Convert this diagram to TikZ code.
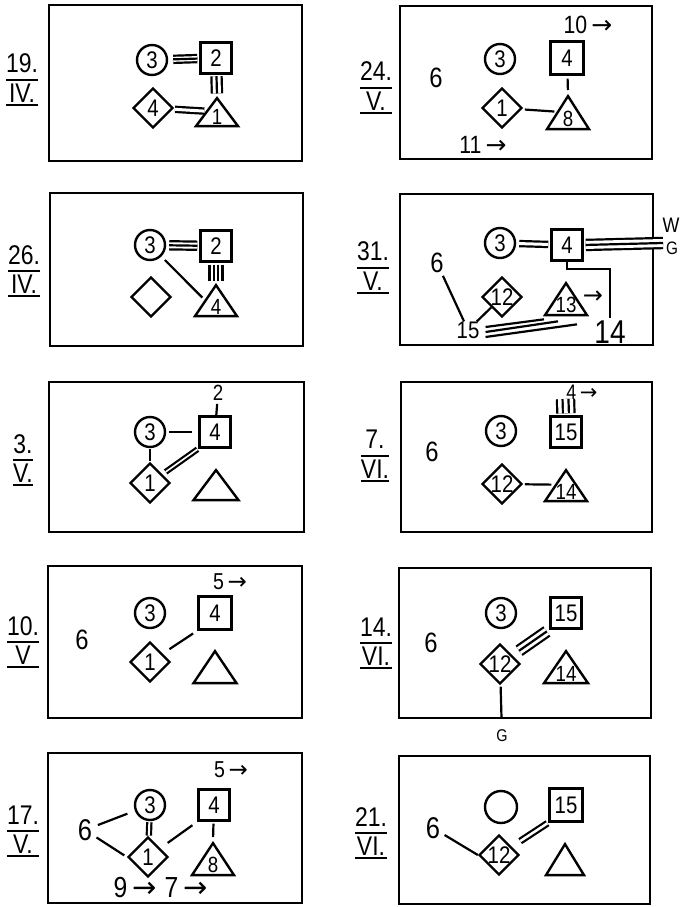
\documentclass[tikz,border=0pt]{standalone}
\usepackage{fontspec}
\setmainfont{Liberation Sans}
\newfontfamily\hand[FakeStretch=0.85]{Liberation Sans}
\newfontfamily\arrfont{DejaVu Sans}
\usetikzlibrary{shapes.geometric,calc}
\newcommand\arr{{\arrfont →}}
\setlength{\arrayrulewidth}{2pt}
\renewcommand\arraystretch{0}
\newcommand\datelab[2]{\begin{tabular}{@{}c@{}}\rule[-6pt]{0pt}{25pt}#1\\\hline\rule[-1.5pt]{0pt}{23pt}#2\\\hline\end{tabular}}
\tikzset{
  pbox/.style={draw, line width=2.8pt},
  ln/.style={line width=2.2pt},
  shp/.style={draw, line width=2.4pt, inner sep=0pt, font=\hand\fontsize{24}{24}\selectfont},
  circ/.style={shp, circle, minimum size=30pt},
  sq/.style={shp, rectangle, minimum size=31pt},
  dia/.style={shp, diamond, minimum size=40pt, aspect=1},
  tri/.style={shp, isosceles triangle, isosceles triangle stretches=true, shape border rotate=90, minimum width=42pt, minimum height=31pt, anchor=apex},
  trilab/.style={label={[tx=22, anchor=south, yshift=3pt]lower side:#1}},
  tx/.style={inner sep=0pt, font=\hand\fontsize{#1}{#1}\selectfont},
  datel/.style={inner sep=0pt, font=\hand\fontsize{27}{20}\selectfont}
}
\begin{document}
\begin{tikzpicture}[x=1pt,y=-1pt]
\useasboundingbox (0,0) rectangle (689,907);
% frames
\draw[pbox] (49,5) rectangle (302,161);
\draw[pbox] (400,6) rectangle (652,159);
\draw[pbox] (50,193) rectangle (303,346);
\draw[pbox] (400,194) rectangle (653,345);
\draw[pbox] (49,382) rectangle (304,532);
\draw[pbox] (401,382) rectangle (652,532);
\draw[pbox] (48,566) rectangle (302,718);
\draw[pbox] (399,568) rectangle (651,718);
\draw[pbox] (48,753) rectangle (302,903);
\draw[pbox] (399,756) rectangle (650,904);
% date labels
\node[datel] (dL1) at (22,79.8) {\datelab{19.}{IV.}};
\node[datel] (dR1) at (376,87.9) {\datelab{24.}{V.}};
\node[datel] (dL2) at (24,271.4) {\datelab{26.}{IV.}};
\node[datel] (dR2) at (373,267.9) {\datelab{31.}{V.}};
\node[datel] (dL3) at (23,460.4) {\datelab{3.}{V.}};
\node[datel] (dR3) at (375,455.9) {\datelab{7.}{VI.}};
\node[datel] (dL4) at (23,642.4) {\datelab{10.}{V}};
\node[datel] (dR4) at (376,643.4) {\datelab{14.}{VI.}};
\node[datel] (dL5) at (23,831.4) {\datelab{17.}{V.}};
\node[datel] (dR5) at (371,833.4) {\datelab{21.}{VI.}};

% ---- L1 19.IV
\node[circ] (c1) at (152,60) {3};
\node[sq] (s1) at (216,58) {2};
\node[dia] (d1) at (153,108) {4};
\node[tri, minimum height=28pt, trilab=1] (t1) at (217,95) {};
\draw[ln, double distance=5pt, shorten <=5pt, shorten >=2pt] (c1) -- (s1);
\draw[ln, shorten <=5pt, shorten >=2pt] (c1) -- (s1);
\draw[ln, double distance=3pt, shorten <=2pt, shorten >=1pt] (d1) -- (t1.left side);
\draw[ln, double distance=8pt, shorten <=1.5pt, shorten >=1.5pt] (s1) -- (t1.apex);
\draw[ln, shorten <=1.5pt, shorten >=1.5pt] (s1) -- (t1.apex);

% ---- R1 24.V
\node[tx=25] (n10) at (588,25) {10\,\arr};
\node[circ] (c2) at (500,59) {3};
\node[sq, minimum size=33pt] (s2) at (567,58) {4};
\node[tx=28] (six2) at (436,78) {6};
\node[dia] (d2) at (502,108) {1};
\node[tri, minimum height=33pt, trilab=8] (t2) at (568,93) {};
\draw[ln, shorten <=3pt, shorten >=3pt] (s2) -- (t2.apex);
\draw[ln, shorten <=3pt, shorten >=2pt] (d2) -- (t2.left side);
\node[tx=25] (n11) at (483,145) {11\,\arr};

% ---- L2 26.IV
\node[circ] (c3) at (150,245) {3};
\node[sq] (s3) at (216,246) {2};
\node[dia] (d3) at (151,297) {};
\node[tri, trilab=4] (t3) at (216,282) {};
\draw[ln, double distance=6pt, shorten <=3pt, shorten >=2pt] (c3) -- (s3);
\draw[ln, shorten <=3pt, shorten >=2pt] (c3) -- (s3);
\draw[ln, shorten <=5pt, shorten >=3pt] (c3) -- (t3.left side);
\draw[ln, double distance=10.9pt, shorten <=2pt, shorten >=1.5pt] (s3) -- (t3.apex);
\draw[ln, double distance=2.3pt, shorten <=2pt, shorten >=1.5pt] (s3) -- (t3.apex);

% ---- R2 31.V
\node[circ] (c4) at (500,243) {3};
\node[sq] (s4) at (567,245) {4};
\coordinate (wg) at (663,243);
\node[tx=21] (W) at (671,225) {W};
\node[tx=18] (G1) at (672,248) {G};
\node[tx=28] (six4) at (437,263) {6};
\node[tx=24] (n15) at (468,330) {15};
\node[dia] (d4) at (502,297) {12};
\node[tri, minimum height=32pt, trilab=13] (t4) at (566,280) {};
\node[tx=24] (arr4) at (593,297) {\arr};
\node[tx=33] (n14) at (610,332) {14};
\draw[ln, double distance=3pt, shorten <=3pt, shorten >=2pt] (c4) -- (s4);
\draw[ln, double distance=8pt, shorten <=2pt] (s4.east) -- (wg);
\draw[ln, shorten <=2pt] (s4.east) -- (wg);
\draw[ln, shorten <=3pt] (six4) -- (n15);
\draw[ln] (n15) -- (d4);
\draw[ln] ($(n15.east)+(6,-3)$) -- ($(t4.lower side)+(-22,3)$);
\draw[ln] ($(n15.east)+(6,2)$) -- ($(t4.lower side)+(-8,5)$);
\draw[ln] ($(n15.east)+(6,7)$) -- ($(t4.lower side)+(11,8)$);
\draw[ln, shorten >=2pt] (s4.south) -- ++(0,7) -| (n14.north);

% ---- L3 3.V
\node[tx=22] (n2) at (218,393) {2};
\node[sq] (s5) at (215,432) {4};
\node[circ] (c5) at (150,432) {3};
\node[dia] (d5) at (150,483) {1};
\node[tri, minimum width=45pt, minimum height=30pt] (t5) at (216,467) {};
\draw[ln, shorten <=3pt] (n2) -- (s5);
\draw[ln, shorten <=3pt, shorten >=6pt] (c5) -- (s5);
\draw[ln, shorten <=1pt, shorten >=1pt] (c5) -- (d5);
\draw[ln, double distance=1.6pt, shorten <=4pt, shorten >=1pt] (d5) -- (s5.south west);

% ---- R3 7.VI
\node[tx=21] (n4b) at (582,392) {4\,\arr};
\node[sq] (s7) at (566,432) {15};
\coordinate (q7) at (565.5,399);
\node[circ] (c7) at (501,431) {3};
\node[tx=28] (six7) at (432,452) {6};
\node[dia] (d7) at (502,484) {12};
\node[tri, trilab=14] (t7) at (566,467) {};
\draw[ln, double distance=15pt, shorten <=2pt] (s7.north) -- (q7);
\draw[ln, double distance=3.7pt, shorten <=2pt] (s7.north) -- (q7);
\draw[ln, shorten <=2pt, shorten >=3pt] (d7) -- (t7.left side);

% ---- L4 10.V
\node[tx=23] (n5a) at (230,582) {5\,\arr};
\node[circ] (c8) at (150,613) {3};
\node[sq, minimum size=33pt] (s8) at (215,613) {4};
\node[tx=28] (six8) at (82,640) {6};
\node[dia] (d8) at (150,662) {1};
\node[tri, minimum width=43pt, minimum height=32pt] (t8) at (215,648) {};
\draw[ln, shorten <=8pt, shorten >=5pt] (d8) -- (s8.south west);

% ---- R4 14.VI
\node[tx=28] (six9) at (431,643) {6};
\node[circ] (c9) at (501,613) {3};
\node[sq] (s9) at (566,613) {15};
\node[dia] (d9) at (500,664) {12};
\node[tri, minimum width=44pt, minimum height=32pt, trilab=14] (t9) at (566,648) {};
\node[tx=17] (G2) at (502,736) {G};
\draw[ln, double distance=8pt, shorten <=8pt, shorten >=3pt] (d9) -- (s9.south west);
\draw[ln, shorten <=8pt, shorten >=3pt] (d9) -- (s9.south west);
\draw[ln, shorten <=2pt, shorten >=12pt] (d9) -- (G2);

% ---- L5 17.V
\node[tx=23] (n5b) at (231,770) {5\,\arr};
\node[circ] (c10) at (150,805) {3};
\node[sq] (s10) at (214,805) {4};
\node[tx=30] (six10) at (85,830) {6};
\node[dia] (d10) at (148,857) {1};
\node[tri, minimum height=32pt, trilab=8] (t10) at (213,840) {};
\node[tx=29] (n9) at (135,888) {9\,\arr};
\node[tx=29] (n7) at (186,888) {7\,\arr};
\draw[ln, shorten <=6pt, shorten >=8pt] (six10) -- (c10);
\draw[ln, shorten <=5pt, shorten >=3pt] (six10) -- (d10.west);
\draw[ln, double distance=2pt, shorten <=1pt, shorten >=1pt] (c10) -- (d10);
\draw[ln, shorten <=9pt, shorten >=6pt] (d10) -- (s10.south west);
\draw[ln, shorten <=2pt, shorten >=3pt] (s10) -- (t10.apex);

% ---- R5 21.VI
\node[circ, minimum size=32pt] (c11) at (501,807) {};
\node[sq, minimum size=33pt] (s11) at (566,805) {15};
\node[tx=30] (six11) at (433,828) {6};
\node[dia] (d11) at (499,855) {12};
\node[tri, minimum width=38pt] (t11) at (565,841) {};
\draw[ln, shorten <=5pt] (six11) -- (d11.west);
\draw[ln, double distance=2.5pt, shorten <=10pt, shorten >=1pt] (d11) -- (s11.south west);
\end{tikzpicture}
\end{document}
